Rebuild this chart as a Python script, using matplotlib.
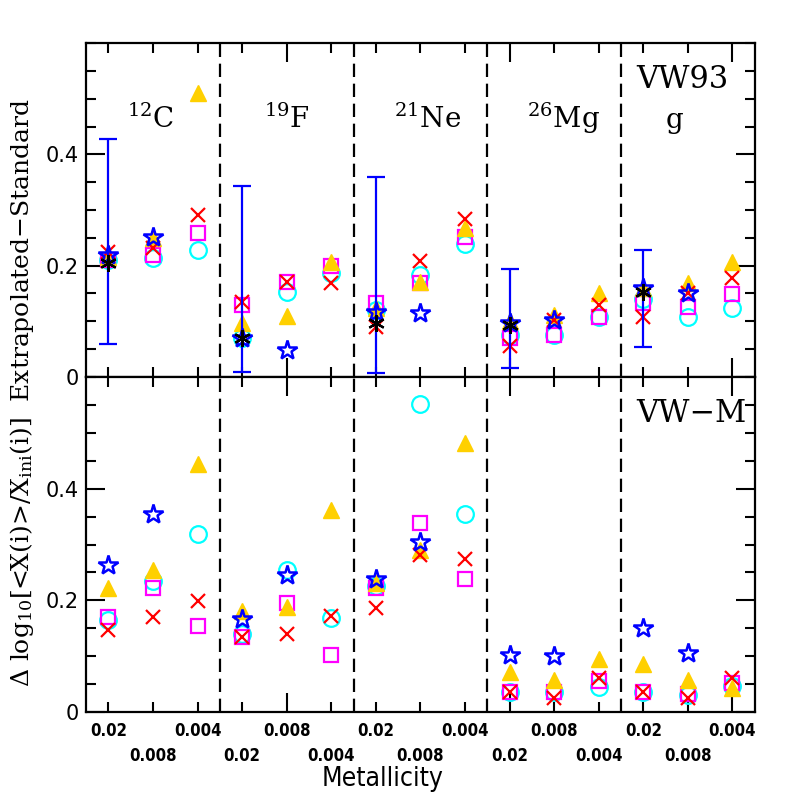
import numpy as np
import matplotlib
matplotlib.use("Agg")
import matplotlib.pyplot as plt
from matplotlib.ticker import MultipleLocator

plt.rcParams["mathtext.fontset"] = "dejavuserif"

elements = [r"$^{12}$C", r"$^{19}$F", r"$^{21}$Ne", r"$^{26}$Mg", "g"]
metallicities = ["0.02", "0.008", "0.004"]
nan = np.nan

# top panel (VW93), 15 values: element x metallicity
top_cross = [0.224, 0.231, 0.291, 0.135, 0.170, 0.169, 0.090, 0.208, 0.283,
             0.055, 0.102, 0.129, 0.108, 0.150, 0.178]
top_square = [0.210, 0.219, 0.258, 0.129, 0.170, 0.200, 0.133, 0.169, 0.252,
              0.070, 0.075, 0.107, 0.133, 0.126, 0.149]
top_circle = [0.210, 0.213, 0.228, 0.070, 0.152, 0.186, 0.120, 0.183, 0.239,
              0.075, 0.075, 0.107, 0.140, 0.107, 0.124]
top_triangle = [0.215, 0.250, 0.511, 0.097, 0.109, 0.206, 0.124, 0.170, 0.267,
                0.100, 0.111, 0.151, 0.160, 0.169, 0.206]
top_star = [0.219, 0.251, nan, 0.070, 0.048, nan, 0.117, 0.115, nan,
            0.097, 0.102, nan, 0.160, 0.150, nan]
# black asterisks with error bars, only at Z=0.02
top_aster = [0.204, 0.070, 0.097, 0.094, 0.153]
err_hi = [0.427, 0.343, 0.359, 0.194, 0.228]
err_lo = [0.059, 0.009, 0.007, 0.016, 0.053]

# bottom panel (VW-M)
bot_cross = [0.147, 0.171, 0.199, 0.135, 0.140, 0.172, 0.186, 0.282, 0.274,
             0.036, 0.025, 0.061, 0.036, 0.025, 0.061]
bot_square = [0.171, 0.222, 0.154, 0.135, 0.195, 0.102, 0.222, 0.339, 0.238,
              0.036, 0.036, 0.056, 0.036, 0.033, 0.052]
bot_circle = [0.165, 0.235, 0.318, 0.140, 0.255, 0.168, 0.225, 0.551, 0.355,
              0.036, 0.036, 0.045, 0.036, 0.030, 0.047]
bot_triangle = [0.222, 0.255, 0.445, 0.181, 0.188, 0.362, 0.231, 0.290, 0.482,
                0.072, 0.057, 0.095, 0.086, 0.057, 0.043]
bot_star = [0.264, 0.355, nan, 0.166, 0.246, nan, 0.238, 0.305, nan,
            0.102, 0.100, nan, 0.151, 0.106, nan]

ng, nz = len(elements), len(metallicities)
x = np.array([g * nz + k + 1 for g in range(ng) for k in range(nz)])
x02 = x[::nz]
ticklabels = metallicities * ng

fig = plt.figure(figsize=(7.97, 7.97), dpi=100)
ax1 = fig.add_axes([0.108, 0.527, 0.839, 0.419])
ax2 = fig.add_axes([0.108, 0.1066, 0.839, 0.4204])

gold = "#ffd000"


def draw(ax, cross, square, circle, tri, star):
    ax.plot(x, circle, "o", ms=12, mfc="none", mec="cyan", mew=1.6, zorder=3)
    ax.plot(x, square, "s", ms=10, mfc="none", mec="magenta", mew=1.6, zorder=3)
    ax.plot(x, tri, "^", ms=11, color=gold, mec=gold, zorder=4)
    ax.plot(x, cross, "x", ms=10, color="red", mew=1.6, zorder=5)
    ax.plot(x, star, "*", ms=15, mfc="none", mec="blue", mew=1.8, zorder=6)


draw(ax1, top_cross, top_square, top_circle, top_triangle, top_star)
draw(ax2, bot_cross, bot_square, bot_circle, bot_triangle, bot_star)

aster = np.array(top_aster)
ax1.errorbar(x02, aster, yerr=[aster - np.array(err_lo), np.array(err_hi) - aster],
             fmt="none", ecolor="blue", elinewidth=1.6, capsize=6.5, capthick=1.6, zorder=6)
ax1.plot(x02, aster, marker=(6, 2, 0), ms=12, ls="none", mec="black", mew=1.6, zorder=7)

for ax in (ax1, ax2):
    ax.set_xlim(0.5, 15.5)
    ax.set_ylim(0, 0.6)
    for xd in np.arange(nz + 0.5, ng * nz, nz):
        ax.axvline(xd, color="black", ls=(0, (6, 3)), lw=1.6, zorder=1)
    ax.xaxis.set_major_locator(MultipleLocator(5))
    ax.xaxis.set_minor_locator(MultipleLocator(1))
    ax.yaxis.set_minor_locator(MultipleLocator(0.05))
    ax.set_yticks([0, 0.2, 0.4])
    ax.set_yticklabels(["0", "0.2", "0.4"])
    ax.tick_params(which="both", direction="in", top=True, right=True, width=1.5)
    ax.tick_params(which="major", length=14, labelsize=15, pad=5)
    ax.tick_params(which="minor", length=7)
    ax.tick_params(axis="x", labelbottom=False)
    for s in ax.spines.values():
        s.set_linewidth(1.6)

for xi, lab in zip(x, ticklabels):
    row = (xi - 1) % 2
    ax2.annotate(lab, xy=(xi, 0), xycoords=("data", "axes fraction"),
                 xytext=(0, -14 - 18 * row), textcoords="offset points",
                 ha="center", va="center", fontsize=12, fontweight="bold",
                 fontstretch="condensed")

ax2.annotate("Metallicity", xy=(0.5, 0), xycoords="axes fraction",
             xytext=(-27, -48), textcoords="offset points",
             ha="center", va="center", fontsize=19, fontstretch="condensed")

for g, lab in enumerate(elements):
    xoff = [-0.05, 0.0, 0.15, 0.2, -0.3][g]
    ax1.text(g * nz + 2 + xoff, 0.448, lab, ha="center", va="baseline",
             fontsize=20, family="DejaVu Serif")

ax1.text(12.84, 0.52, "VW93", ha="left", va="baseline", fontsize=22, family="DejaVu Serif")
ax2.text(12.84, 0.52, "VW\u2212M", ha="left", va="baseline", fontsize=22,
         family="DejaVu Serif")

fig.text(0.028, 0.508,
         r"$\Delta$ log$_{10}$[<X(i)>/X$_{\rm ini}$(i)]  Extrapolated$-$Standard",
         rotation=90, ha="center", va="center", fontsize=18, family="DejaVu Serif")

fig.savefig("out.png", dpi=100)
